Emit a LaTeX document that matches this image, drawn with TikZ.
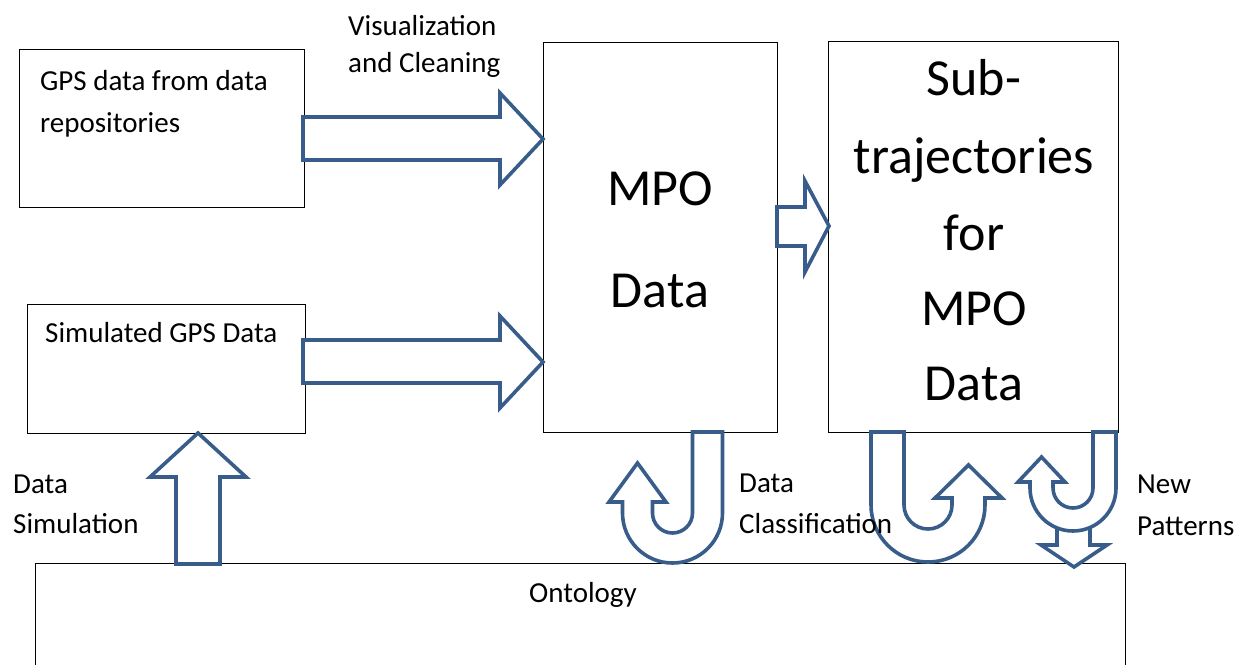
\documentclass[tikz,border=0pt]{standalone}
\usepackage{fontspec}
\setmainfont{Carlito}
\definecolor{arrowblue}{RGB}{56,93,138}
\begin{document}
\begin{tikzpicture}[x=1pt,y=-1pt,
  box/.style={draw=black,line width=1pt,fill=white,anchor=north west,inner sep=0pt,outer sep=0pt},
  blockarrow/.style={draw=arrowblue,line width=3.6pt,fill=white,line join=miter,miter limit=10},
  small/.style={font=\fontsize{29}{35}\selectfont,inner sep=0pt,anchor=base west},
  big/.style={font=\fontsize{52}{62}\selectfont,inner sep=0pt,anchor=base},
  smallc/.style={font=\fontsize{29}{35}\selectfont,inner sep=0pt,anchor=base}]
\clip (0,0) rectangle (1250,664);
\fill[white] (0,0) rectangle (1250,664);
% boxes
\node[box,minimum width=285pt,minimum height=158pt] (gps) at (19,49) {};
\node[box,minimum width=278pt,minimum height=129pt] (sim) at (27,304) {};
\node[box,minimum width=234pt,minimum height=390pt] (mpo) at (543,42) {};
\node[box,minimum width=290pt,minimum height=391pt] (sub) at (828,41) {};
\node[box,minimum width=1090pt,minimum height=140pt] (onto) at (35,563) {};
% right block arrows
\draw[blockarrow] (303,117) -- (500,117) -- (500,93) -- (543,139) -- (500,185) -- (500,160) -- (303,160) -- cycle;
\draw[blockarrow] (303,340) -- (500,340) -- (500,316) -- (543,362) -- (500,408) -- (500,383) -- (303,383) -- cycle;
\draw[blockarrow] (777,207) -- (805,207) -- (805,181) -- (829,226) -- (805,272) -- (805,246) -- (777,246) -- cycle;
% up arrow
\draw[blockarrow] (176,564) -- (176,477) -- (150,477) -- (198,433) -- (246,477) -- (220,477) -- (220,564) -- cycle;
% U-turn 1
\draw[blockarrow] (722.5,432) -- (722.5,513) arc(0:180:50) -- (622.5,502) -- (609,502) -- (637.5,463) -- (666,502) -- (652.5,502) -- (652.5,513) arc(180:0:20) -- (692.5,432) -- cycle;
% U-turn 2
\draw[blockarrow] (871,432) -- (871,505) arc(180:0:57) -- (985,498) -- (1002,498) -- (968.5,465) -- (935,498) -- (952,498) -- (952,505) arc(0:180:24) -- (904,432) -- cycle;
% down arrow
\draw[blockarrow] (1057,522) -- (1057,545) -- (1041,545) -- (1074,567) -- (1107,545) -- (1090,545) -- (1090,522) -- cycle;
% U-turn 3
\draw[blockarrow] (1116,432) -- (1116,488) arc(0:180:43) -- (1030,482) -- (1018,482) -- (1041.5,457) -- (1065,482) -- (1053,482) -- (1053,488) arc(180:0:20) -- (1093,432) -- cycle;
% texts
\node[small] (t1) at (40,90) {GPS data from data};
\node[small] (t2) at (40,132) {repositories};
\node[small] (t3) at (348,35) {Visualization};
\node[small] (t4) at (348,72) {and Cleaning};
\node[small] (t5) at (45,342) {Simulated GPS Data};
\node[big] (m1) at (660,205) {MPO};
\node[big] (m2) at (660,307) {Data};
\node[big] (s1) at (974,95) {Sub-};
\node[big] (s2) at (974,173) {trajectories};
\node[big] (s3) at (974,250) {for};
\node[big] (s4) at (974,325) {MPO};
\node[big] (s5) at (974,400) {Data};
\node[small] (d1) at (13,493) {Data};
\node[small] (d2) at (13,533) {Simulation};
\node[small] (c1) at (739,492) {Data};
\node[small] (c2) at (739,533) {Classification};
\node[small] (n1) at (1137,493) {New};
\node[small] (n2) at (1137,535) {Patterns};
\node[smallc] (o1) at (583,602) {Ontology};
\end{tikzpicture}
\end{document}
